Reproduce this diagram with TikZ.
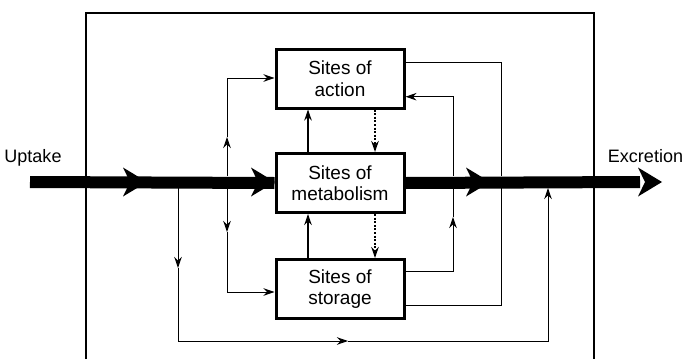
\documentclass[tikz,border=0pt]{standalone}
\usepackage{fontspec}
\setmainfont{Liberation Sans}
\usetikzlibrary{arrows.meta}
\newcommand\thickhead[1]{\fill (#1,182) -- ++(-24,-14.5) -- ++(7,14.5) -- ++(-7,14.5) -- cycle;}
\begin{document}
\begin{tikzpicture}[x=1pt,y=-1pt,
  box/.style={draw,line width=3pt,minimum width=128pt,minimum height=59pt,align=center,
    font=\fontsize{19}{21.5}\selectfont,inner sep=0pt},
  thin/.style={line width=1pt},
  tip/.style={-{Stealth[length=11pt,width=7.5pt,inset=3.5pt]}},
  lbl/.style={font=\fontsize{18}{21}\selectfont,anchor=base,inner sep=0pt}]
\useasboundingbox (0,0) rectangle (690,359);
% outer body frame
\draw[line width=1.2pt] (86,359) -- (86,13) -- (594,13) -- (594,359);
% boxes
\node[box] (act) at (340,78.5) {Sites of\\action};
\node[box] (met) at (340,183) {Sites of\\metabolism};
\node[box] (sto) at (340,289) {Sites of\\storage};
% labels
\node[lbl] (up) at (33,162) {Uptake};
\node[lbl] (ex) at (645.5,162) {Excretion};
% thick main arrow
\coordinate (in) at (30,182);
\coordinate (outend) at (640,182);
\draw[line width=12pt] (in) -- (met.west);
\draw[line width=12pt] (met.east) -- (outend);
\thickhead{147}
\thickhead{275}
\thickhead{490}
\thickhead{662}
% left upper loop to action
\coordinate (a1) at (227,176);
\coordinate (a1m) at (227,137);
\coordinate (a1c) at (227,78);
\draw[thin,tip] (a1) -- (a1m);
\draw[thin,tip] (a1m) -- (a1c) -- (act.west |- a1c);
% left lower loop to storage
\coordinate (a2) at (227,188);
\coordinate (a2m) at (227,232);
\coordinate (a2c) at (227,292);
\draw[thin,tip] (a2) -- (a2m);
\draw[thin,tip] (a2m) -- (a2c) -- (sto.west |- a2c);
% bottom bypass loop
\coordinate (b1) at (178,188);
\coordinate (b1m) at (178,268);
\coordinate (b1c) at (178,341);
\coordinate (b1h) at (348,341);
\coordinate (b1r) at (548,341);
\coordinate (b1t) at (548,188);
\draw[thin,tip] (b1) -- (b1m);
\draw[thin,tip] (b1m) -- (b1c) -- (b1h);
\draw[thin,tip] (b1h) -- (b1r) -- (b1t);
% right side connectors
\coordinate (r1) at (501,62.7);
\coordinate (r1b) at (501,176);
\draw[thin] (act.east |- r1) -- (r1) -- (r1b);
\coordinate (r2) at (453,176);
\coordinate (r2c) at (453,96.7);
\draw[thin,tip] (r2) -- (r2c) -- (act.east |- r2c);
\coordinate (r3c) at (453,271);
\coordinate (r3m) at (453,217);
\coordinate (r3t) at (453,188);
\draw[thin,tip] (sto.east |- r3c) -- (r3c) -- (r3m);
\draw[thin] (r3m) -- (r3t);
\coordinate (r4c) at (501,305.7);
\coordinate (r4t) at (501,188);
\draw[thin] (sto.east |- r4c) -- (r4c) -- (r4t);
% between boxes
\coordinate (v1) at (308,0);
\coordinate (v2) at (375,0);
\draw[line width=1.1pt,tip] (met.north -| v1) -- (act.south -| v1);
\draw[line width=1.1pt,tip] (sto.north -| v1) -- (met.south -| v1);
\draw[line width=2pt,dash pattern=on 2pt off 1.6pt,tip] (act.south -| v2) -- (met.north -| v2);
\draw[line width=2pt,dash pattern=on 2pt off 1.6pt,tip] (met.south -| v2) -- (sto.north -| v2);
\end{tikzpicture}
\end{document}
